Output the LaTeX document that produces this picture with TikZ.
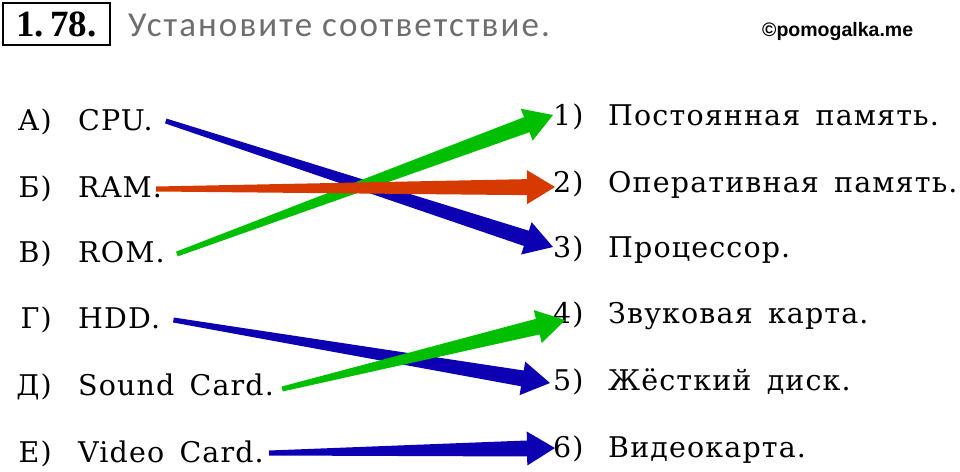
\documentclass[tikz,border=0pt]{standalone}
\usepackage{fontspec}
\setmainfont{DejaVu Serif}[LetterSpace=4, WordSpace=1.5]
\newfontfamily\taskfont{Carlito}[LetterSpace=6]
\newfontfamily\markfont{Liberation Sans}
\newfontfamily\numfont{Liberation Serif}
\usetikzlibrary{calc}
\usetikzlibrary{positioning}
\definecolor{ablue}{RGB}{12,0,178}
\definecolor{ared}{RGB}{214,58,0}
\definecolor{agreen}{RGB}{0,190,0}
\definecolor{taskgray}{RGB}{110,110,110}

% tapered arrow: colour, start, tip
\newcommand{\tarrow}[3]{%
	\coordinate (ta) at (#2);
	\coordinate (tb) at (#3);
	\coordinate (th) at ($(tb)!28pt!(ta)$);
	\fill[#1] ($(ta)!2.5pt!90:(tb)$) -- ($(th)!8pt!90:(tb)$) -- ($(th)!17pt!90:(tb)$) -- (tb)
		-- ($(th)!17pt!-90:(tb)$) -- ($(th)!8pt!-90:(tb)$) -- ($(ta)!2.5pt!-90:(tb)$) -- cycle;
}

\begin{document}
\begin{tikzpicture}[x=1pt, y=-1pt,
	item/.style={inner sep=0pt, font=\fontsize{28.5}{28.5}\selectfont},
	letter/.style={item, anchor=base east},
	answer/.style={item, anchor=base west}]
		\useasboundingbox (0,0) rectangle (960,471);

		% header
		\node[draw, line width=2pt, minimum width=107pt, minimum height=42pt, inner sep=0pt,
			font=\numfont\bfseries\fontsize{37}{37}\selectfont] (num) at (56.5,24) {1.\,78.};
		\node[anchor=base west, inner sep=0pt, text=taskgray,
			font=\taskfont\fontsize{35}{35}\selectfont] (task) at (128,36) {Установите соответствие.};
		\node[anchor=base west, inner sep=0pt,
			font=\markfont\bfseries\fontsize{19.5}{19.5}\selectfont] (mark) at (762,36) {©pomogalka.me};

		% left column
		\node[letter] (la) at (52,130) {А)};
		\node[letter] (lb) at (52,197) {Б)};
		\node[letter] (lv) at (52,262) {В)};
		\node[letter] (lg) at (52,328) {Г)};
		\node[letter] (ld) at (52,395) {Д)};
		\node[letter] (le) at (52,462) {Е)};
		\node[answer] (cpu) at (78,130) {CPU.};
		\node[answer] (ram) at (78,197) {RAM.};
		\node[answer] (rom) at (78,262) {ROM.};
		\node[answer] (hdd) at (78,328) {HDD.};
		\node[answer] (sound) at (78,395) {Sound Card.};
		\node[answer] (video) at (78,462) {Video Card.};

		% right column
		\node[answer] (n1) at (553,125) {1)};
		\node[answer] (n2) at (553,192) {2)};
		\node[answer] (n3) at (553,257) {3)};
		\node[answer] (n4) at (553,323) {4)};
		\node[answer] (n5) at (553,390) {5)};
		\node[answer] (n6) at (553,457) {6)};
		\node[answer] (t1) at (608,125) {Постоянная память.};
		\node[answer] (t2) at (608,192) {Оперативная память.};
		\node[answer] (t3) at (608,257) {Процессор.};
		\node[answer] (t4) at (608,323) {Звуковая карта.};
		\node[answer] (t5) at (608,390) {Жёсткий диск.};
		\node[answer] (t6) at (608,457) {Видеокарта.};

		% matches
		\tarrow{ablue}{[xshift=13pt,yshift=9pt]cpu.base east}{[yshift=10pt]n3.base west}
		\tarrow{agreen}{[xshift=12pt,yshift=8pt]rom.base east}{[yshift=10pt]n1.base west}
		\tarrow{ared}{[xshift=-6pt,yshift=8pt]ram.base east}{[xshift=2pt,yshift=5pt]n2.base west}
		\tarrow{ablue}{[xshift=13pt,yshift=8pt]hdd.base east}{[xshift=-3pt,yshift=7pt]n5.base west}
		\tarrow{agreen}{[xshift=8pt,yshift=6pt]sound.base east}{[xshift=12pt,yshift=3pt]n4.base west}
		\tarrow{ablue}{[xshift=5pt,yshift=9pt]video.base east}{[xshift=2pt,yshift=9pt]n6.base west}
\end{tikzpicture}
\end{document}
